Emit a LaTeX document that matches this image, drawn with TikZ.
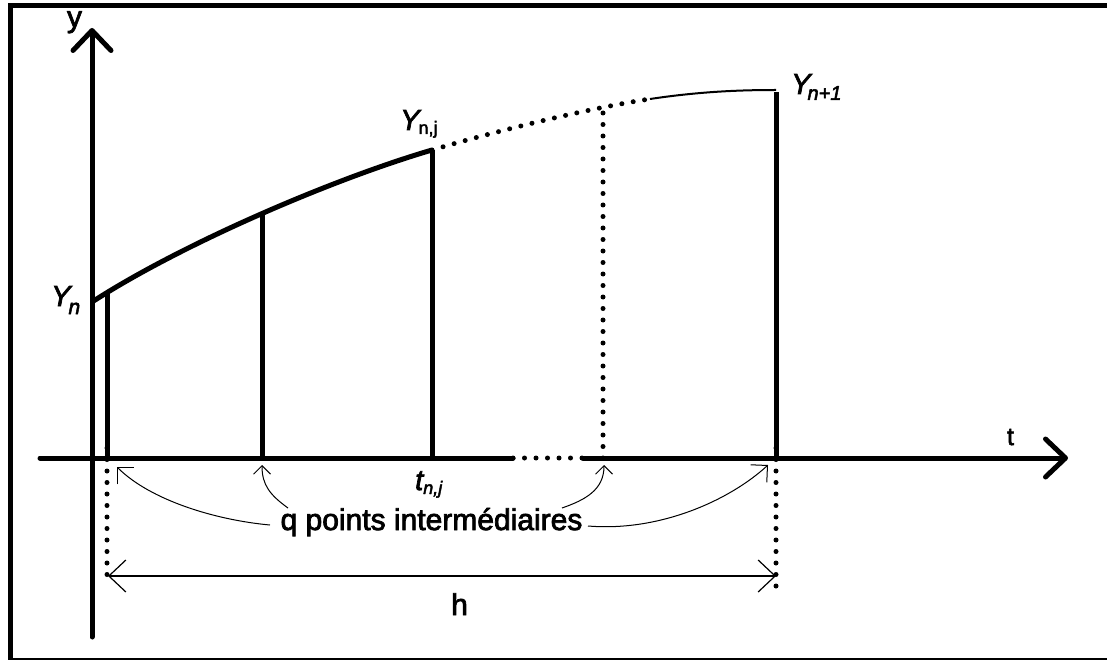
\documentclass[tikz,border=0pt]{standalone}
\usepackage{fontspec}
\setmainfont{Liberation Sans}[FakeBold=2.5]
\usetikzlibrary{arrows.meta}
\begin{document}
\begin{tikzpicture}[x=1pt,y=-1pt,
  frame/.style={line width=5pt},
  heavy/.style={line width=5pt},
  axisline/.style={line width=5pt,line cap=round,
    -{Straight Barb[length=20pt,width=38pt,round]}},
  plainaxis/.style={line width=5pt,line cap=round},
  dotline/.style={line width=5pt,line cap=round,dash pattern=on 0pt off 11.5pt},
  thinline/.style={line width=2pt},
  bigptr/.style={line width=1pt,-{Straight Barb[length=12pt,width=24pt]}},
  smallptr/.style={line width=1pt,-{Straight Barb[length=8.5pt,width=17pt]}},
  dimline/.style={line width=1.2pt,{Straight Barb[length=17pt,width=32pt]}-{Straight Barb[length=17pt,width=32pt]}},
  lbl/.style={inner sep=0pt,font=\fontsize{30}{30}\selectfont},
  every node/.style={inner sep=0pt}
]
\useasboundingbox (0,0) rectangle (1107,660);
\draw[frame] (10,5.5) rectangle (1115,660);

% axes
\coordinate (ybot) at (92,637);
\coordinate (ytop) at (92,28);
\coordinate (xl) at (40,458);
\coordinate (xg1) at (513,458);
\coordinate (xg2) at (583,458);
\coordinate (xr) at (1068,458);
\draw[axisline] (ybot) -- (ytop);
\draw[plainaxis] (xl) -- (xg1);
\draw[dotline] (xg1) -- (xg2);
\draw[axisline] (xg2) -- (xr);

% curve points
\coordinate (p0) at (92,302);
\coordinate (p1) at (107,292);
\coordinate (p2) at (262,212);
\coordinate (p3) at (432,150);
\coordinate (p4) at (603,107.5);
\coordinate (p5) at (650,99);
\coordinate (p6) at (776,90);
\coordinate (b1) at (107,458);
\coordinate (b2) at (262,458);
\coordinate (b3) at (432,458);
\coordinate (b4) at (603,458);
\coordinate (b6) at (776,458);
\coordinate (d1) at (107,585);
\coordinate (d6) at (776,595);

\draw[heavy] (p0) .. controls (180,245) and (330,180) .. (p3);
\draw[dotline] (p3) .. controls (500,130) and (590,108) .. (p5);
\draw[thinline] (p5) .. controls (700,91.5) and (740,90) .. (p6);

\draw[heavy] (b1) -- (p1);
\draw[heavy] (b2) -- (p2);
\draw[heavy] (b3) -- (p3);
\draw[dotline] (b4) -- (p4);
\draw[heavy] (b6) -- ([yshift=-2pt]p6);

\draw[dotline] ([yshift=10pt]b1) -- (d1);
\draw[dotline] ([yshift=10pt]b6) -- (d6);

% labels
\node[lbl,anchor=base] (ylab) at (74.5,27) {y};
\node[inner sep=0pt,anchor=base,font=\fontsize{25}{25}\selectfont] (tlab) at (1010.5,445) {t};
\node[anchor=base west] (Yn) at (51,306)
  {\fontsize{29}{29}\selectfont\itshape Y\kern-2pt\raisebox{-8pt}{\fontsize{21}{21}\selectfont n}};
\node[anchor=base west] (Ynj) at (400,130)
  {\fontsize{29}{29}\selectfont\itshape Y\kern-1pt\raisebox{-4pt}{\fontsize{18}{18}\selectfont\upshape n,j}};
\node[anchor=base west] (Yn1) at (791,94)
  {\fontsize{29}{29}\selectfont\itshape Y\kern-3pt\raisebox{-6pt}{\fontsize{20}{20}\selectfont n+1}};
\node[anchor=base west] (tnj) at (415,490)
  {\fontsize{29}{29}\selectfont\itshape t\raisebox{-4pt}{\fontsize{18}{18}\selectfont n,j}};

\node[lbl,anchor=base] (q) at (431.5,530) {q points intermédiaires};
\node[lbl,anchor=base] (h) at (459.5,615) {h};

% pointers
\coordinate (a1s) at (270,525);
\coordinate (a1e) at (117,467);
\coordinate (a2s) at (288,508);
\coordinate (a2e) at (262,465);
\coordinate (a3s) at (562,508);
\coordinate (a3e) at (604,465);
\coordinate (a4s) at (588,526);
\coordinate (a4e) at (768,465);
\draw[bigptr] (a1s) .. controls (215,520) and (150,500) .. (a1e);
\draw[smallptr] (a2s) .. controls (270,495) and (262,485) .. (a2e);
\draw[smallptr] (a3s) .. controls (585,500) and (604,490) .. (a3e);
\draw[bigptr] (a4s) .. controls (660,532) and (730,500) .. (a4e);

\coordinate (hl) at (108,576);
\coordinate (hr) at (776,576);
\draw[dimline] (hl) -- (hr);
\end{tikzpicture}
\end{document}
